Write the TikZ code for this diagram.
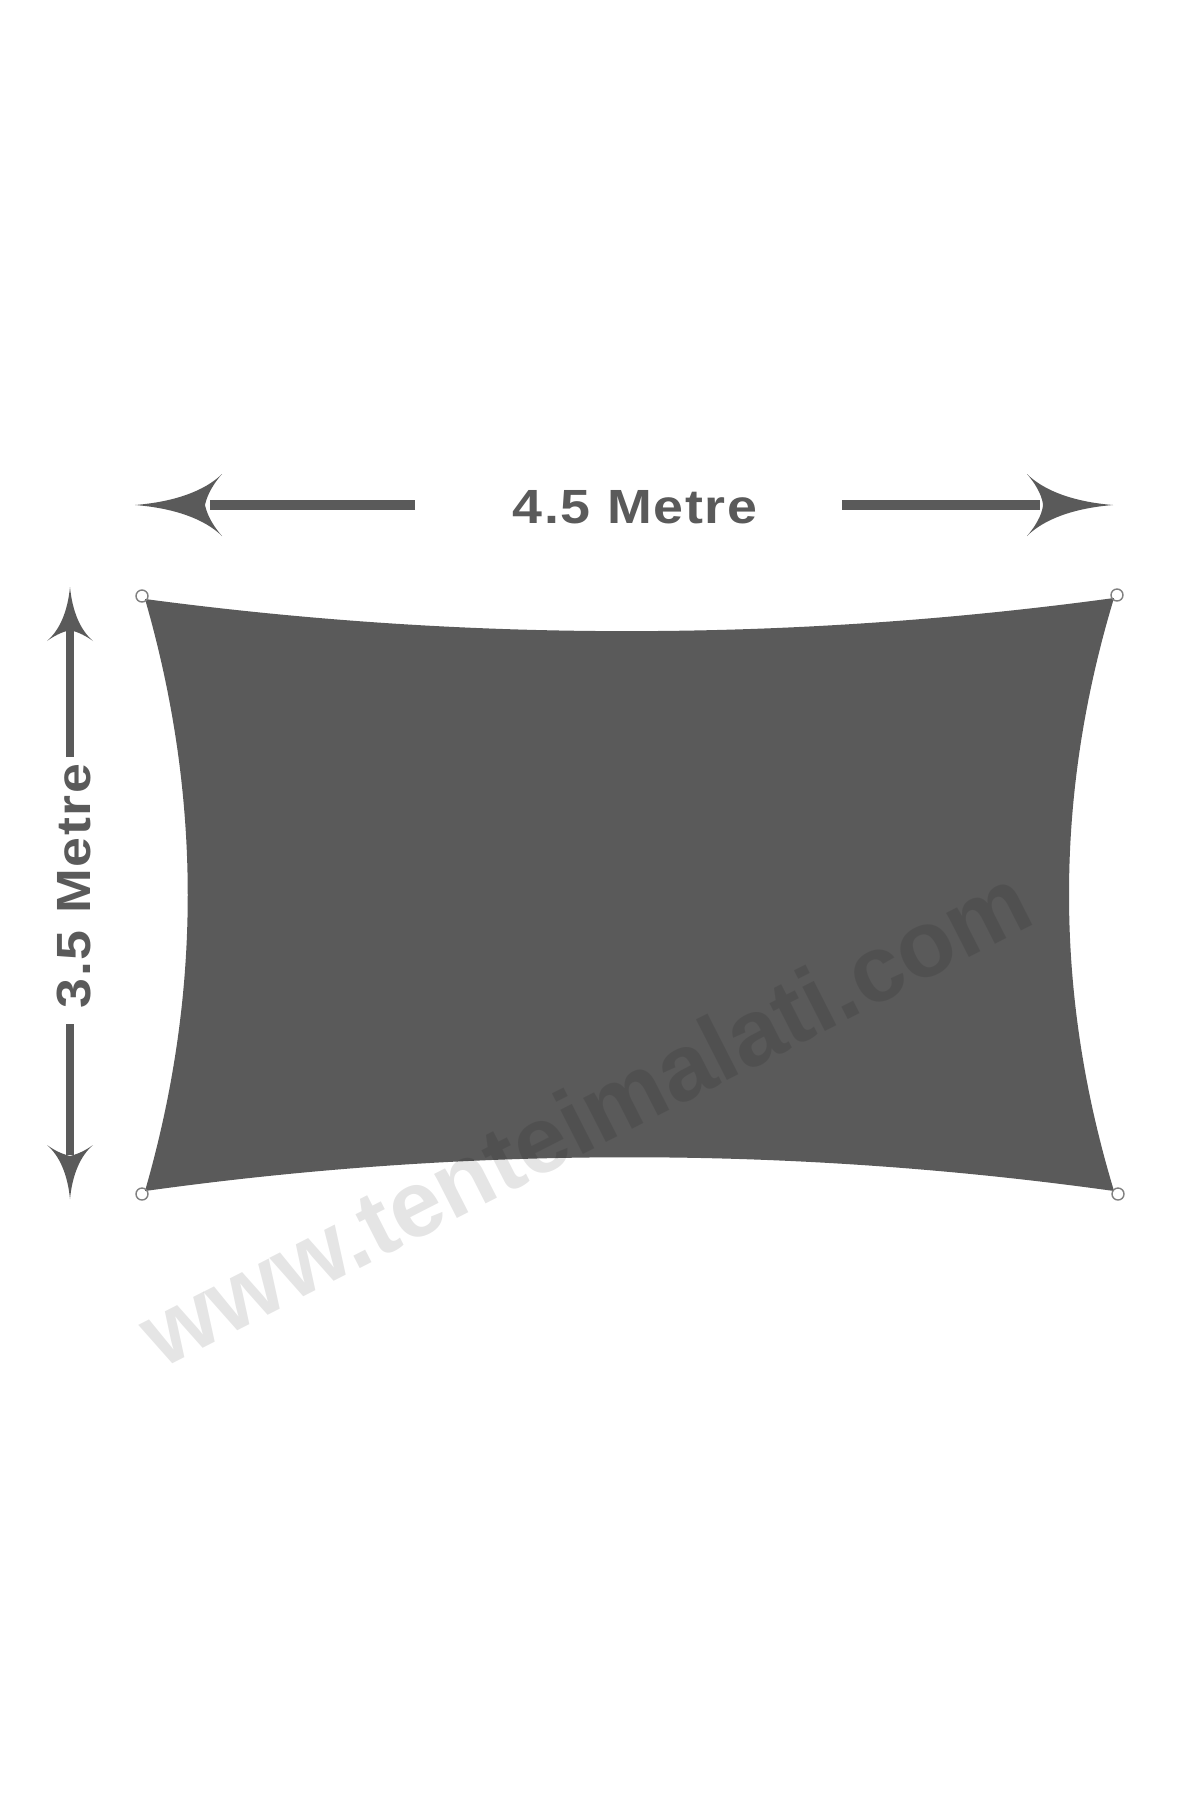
\documentclass[tikz,border=0pt]{standalone}
\usepackage{graphicx}
\usepackage{fontspec}
\setmainfont{Liberation Sans}
\newfontfamily\dimfont[LetterSpace=3]{Liberation Sans}
\newfontfamily\wmfont{Liberation Sans}
\definecolor{sailgray}{RGB}{90,90,90}
\definecolor{ringgray}{RGB}{128,128,128}
\newcommand\sailhead[5]{% tip, angle, length, halfwidth, notch
  \fill[sailgray,shift={#1},rotate=#2]
    (0,0) .. controls (-0.45*#3,0.1*#4) and (-0.8*#3,0.45*#4) .. (-#3,#4)
    .. controls (-0.86*#3,0.55*#4) and (-0.82*#3,0.2*#4) .. (-#5,0)
    .. controls (-0.82*#3,-0.2*#4) and (-0.86*#3,-0.55*#4) .. (-#3,-#4)
    .. controls (-0.8*#3,-0.45*#4) and (-0.45*#3,-0.1*#4) .. cycle;}
\newcommand\widetext[1]{\scalebox{1.12}[1]{#1}}
\tikzset{
  dimtext/.style={font=\dimfont\bfseries\fontsize{48}{48}\selectfont,text=sailgray,inner sep=0pt},
  wmtext/.style={font=\wmfont\bfseries\fontsize{94}{94}\selectfont,text=black,text opacity=0.1,inner sep=0pt},
  hshaft/.style={draw=sailgray,line width=10.5pt},
  vshaft/.style={draw=sailgray,line width=7.5pt},
  ring/.style={draw=ringgray,line width=1.4pt},
}
\begin{document}
\begin{tikzpicture}[x=1pt,y=-1pt]
\useasboundingbox (0,0) rectangle (1200,1800);
\fill[white] (0,0) rectangle (1200,1800);

% sail
\coordinate (tl) at (145,599);
\coordinate (tr) at (1114,598);
\coordinate (br) at (1114,1191);
\coordinate (bl) at (145,1191);
\fill[sailgray] (tl) .. controls (468,642) and (791,642) .. (tr)
  .. controls (1054,796) and (1054,993) .. (br)
  .. controls (791,1146) and (468,1146) .. (bl)
  .. controls (202,994) and (202,796) .. cycle;
\draw[ring] (142,596) circle (6);
\draw[ring] (1117,595) circle (6);
\draw[ring] (142,1194) circle (6);
\draw[ring] (1118,1194) circle (6);

% horizontal dimension
\coordinate (ltip) at (135,505);
\coordinate (lend) at (415,505);
\coordinate (rtip) at (1113,505);
\coordinate (rend) at (842,505);
\draw[hshaft] (lend) -- (210,505);
\draw[hshaft] (rend) -- (1040,505);
\sailhead{(ltip)}{180}{87}{31}{70}
\sailhead{(rtip)}{0}{86}{31}{70}
\node[dimtext,anchor=base] (wlabel) at (635,523) {\widetext{4.5 Metre}};

% vertical dimension
\coordinate (ttip) at (70,587);
\coordinate (tend) at (70,757);
\coordinate (btip) at (70,1199);
\coordinate (bend) at (70,1024);
\draw[vshaft] (tend) -- (70,630);
\draw[vshaft] (bend) -- (70,1155);
\sailhead{(ttip)}{90}{54}{23}{43}
\sailhead{(btip)}{-90}{54}{23}{43}
\node[dimtext,rotate=90,anchor=base] (hlabel) at (90,886) {\widetext{3.5 Metre}};

% watermark
\node[wmtext,rotate=27,anchor=base] (wm) at (600,1146) {www.tenteimalati.com};
\end{tikzpicture}
\end{document}
